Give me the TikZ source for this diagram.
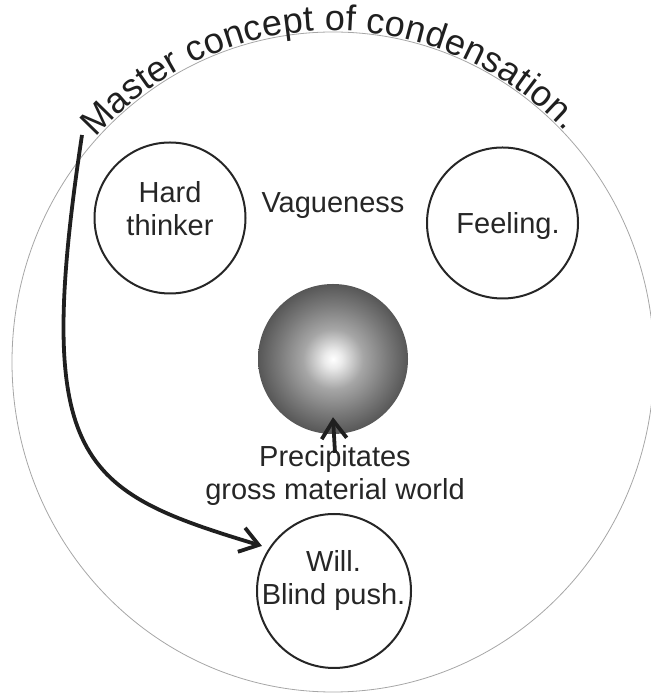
\documentclass[tikz,border=0pt]{standalone}
\usepackage{fontspec}
\setmainfont{Liberation Sans}
\usetikzlibrary{arrows.meta,decorations.text,calc}
\pgfdeclareradialshading{sphereshade}{\pgfpoint{0bp}{0bp}}{color(0bp)=(white); color(3bp)=(black!8); color(10bp)=(black!35); color(18bp)=(black!52); color(25bp)=(black!66); color(50bp)=(black!66)}
\newcommand\mytitlefont{\fontsize{36}{42}\selectfont\color{black!88}}
\tikzset{
  bubble/.style={circle, draw=black!85, line width=2pt, minimum size=151pt, inner sep=0pt},
  lbl/.style={align=center, inner sep=0pt, text=black!85, font=\fontsize{29}{33}\selectfont},
  arr/.style={line width=3.8pt, draw=black!88, -{Straight Barb[length=18pt,width=25pt]}},
  outerring/.style={draw=black!35, line width=0.8pt}
}
\begin{document}
\begin{tikzpicture}[x=1pt,y=1pt]
\useasboundingbox (0,0) rectangle (650,695);
\draw[outerring] (333,333) ellipse [x radius=321pt, y radius=330pt];
\path[decorate, decoration={text along path, text align=fit to path, raise=1.5pt,
  text={|\mytitlefont|Master concept of condensation.}}]
  (333,333) ++(137.5:321pt and 330pt) arc[start angle=137.5, end angle=44, x radius=321pt, y radius=330pt];
\node[bubble] (hard) at (170,477) {};
\node[lbl] (hardt) at (170,486) {Hard\\thinker};
\node[lbl] (vague) at (333,489.5) {Vagueness};
\node[bubble] (feel) at (502.5,472) {};
\node[lbl] (feelt) at (508,469) {Feeling.};
\node[circle, minimum size=150pt, inner sep=0pt, shading=sphereshade] (sphere) at (333,336) {};
\node[lbl] (precip) at (335,219) {Precipitates\\gross material world};
\node[bubble, minimum size=154pt] (will) at (334,104) {};
\node[lbl] (willt) at (333.5,114) {Will.\\Blind push.};
\coordinate (start) at (82,560);
\draw[arr] (start) .. controls (32.5,232) and (79.6,204) .. ($(will.center)+(148:85pt)$);
\draw[arr] ([yshift=-7pt]precip.north) -- ([yshift=17pt]sphere.south);
\end{tikzpicture}
\end{document}
